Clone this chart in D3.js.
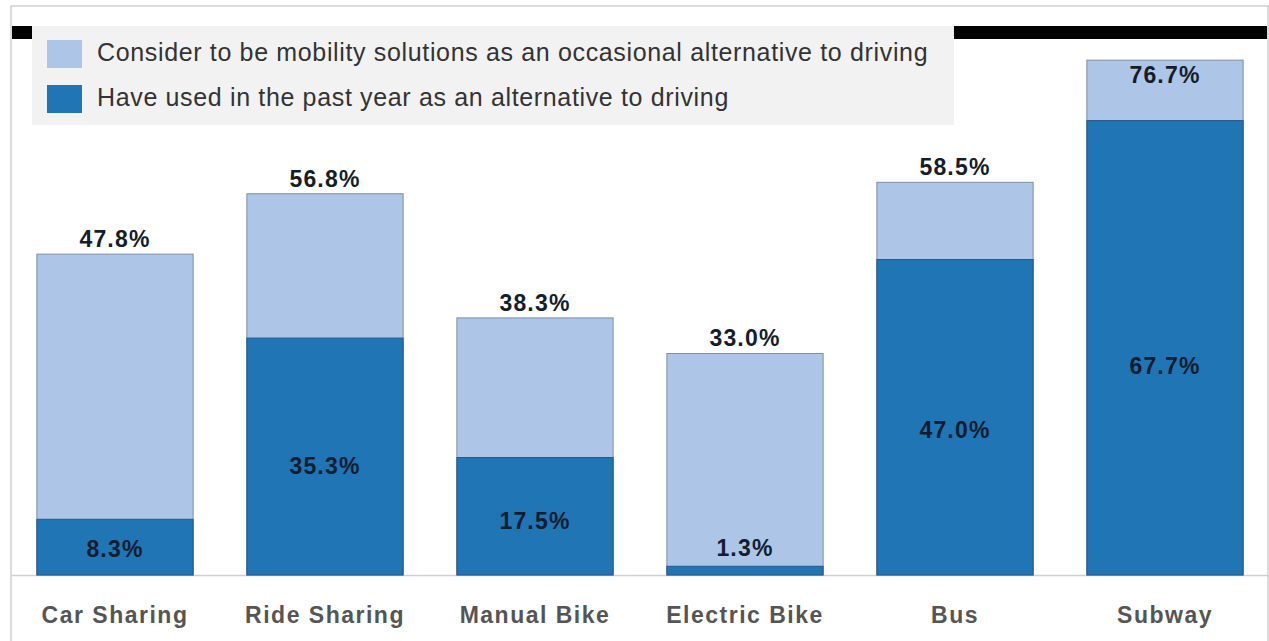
<!DOCTYPE html>
<html>
<head>
<meta charset="utf-8">
<script src="https://cdn.jsdelivr.net/npm/d3@7"></script>
<style>
  html, body { margin: 0; padding: 0; background: #fff; }
  svg { display: block; font-family: "Liberation Sans", Arial, sans-serif; }
</style>
</head>
<body>
<svg id="chart" width="1269" height="641"></svg>
<script>
// data
var categories = ['Car Sharing', 'Ride Sharing', 'Manual Bike', 'Electric Bike', 'Bus', 'Subway'];
var considerVals = [47.8, 56.8, 38.3, 33.0, 58.5, 76.7];   // total bar height
var usedVals = [8.3, 35.3, 17.5, 1.3, 47.0, 67.7];          // dark segment
var legendLabels = [
  'Consider to be mobility solutions as an occasional alternative to driving',
  'Have used in the past year as an alternative to driving'
];

var W = 1269, H = 641;
var LIGHT = '#adc6e7', DARK = '#2075b5';
var svg = d3.select('#chart');

var x = d3.scaleBand().domain(categories).range([10, 1270]).paddingInner(0.256).paddingOuter(0.128);
var y = d3.scaleLinear().domain([0, 80]).range([575, 38]);

// frame
svg.append('rect').attr('x', 11).attr('y', 6).attr('width', W - 12).attr('height', H)
  .attr('fill', 'none').attr('stroke', '#cfcfcf').attr('stroke-width', 1.5);

// black strip at top
svg.append('rect').attr('x', 12).attr('y', 26).attr('width', 1255).attr('height', 13).attr('fill', '#000');

// baseline
svg.append('line').attr('x1', 12).attr('x2', W).attr('y1', y(0) + 0.5).attr('y2', y(0) + 0.5)
  .attr('stroke', '#d0d0d0').attr('stroke-width', 1.5);

// bars
var g = svg.append('g');
g.selectAll('rect.light').data(categories).enter().append('rect').attr('class', 'light')
  .attr('x', function (d) { return x(d); })
  .attr('width', x.bandwidth())
  .attr('y', function (d, i) { return y(considerVals[i]); })
  .attr('height', function (d, i) { return y(0) - y(considerVals[i]); })
  .attr('fill', LIGHT).attr('stroke', '#7d8ea6').attr('stroke-width', 1);

g.selectAll('rect.dark').data(categories).enter().append('rect').attr('class', 'dark')
  .attr('x', function (d) { return x(d); })
  .attr('width', x.bandwidth())
  .attr('y', function (d, i) { return y(usedVals[i]); })
  .attr('height', function (d, i) { return y(0) - y(usedVals[i]); })
  .attr('fill', DARK).attr('stroke', '#29588a').attr('stroke-width', 1);

// top labels
g.selectAll('text.top').data(categories).enter().append('text').attr('class', 'top')
  .attr('x', function (d) { return x(d) + x.bandwidth() / 2; })
  .attr('y', function (d, i) {
    var t = y(considerVals[i]);
    return t - 22 < 130 ? t + 23 : t - 7;
  })
  .attr('text-anchor', 'middle').attr('font-size', 23).attr('font-weight', 'bold')
  .attr('letter-spacing', 1.2).attr('fill', '#161d2a')
  .text(function (d, i) { return considerVals[i].toFixed(1) + '%'; });

// inner labels
g.selectAll('text.inner').data(categories).enter().append('text').attr('class', 'inner')
  .attr('x', function (d) { return x(d) + x.bandwidth() / 2; })
  .attr('y', function (d, i) {
    var v = usedVals[i];
    if (v < 5) return y(v) - 18 + 8;
    return y(v * 0.46) + 8;
  })
  .attr('text-anchor', 'middle').attr('font-size', 23).attr('font-weight', 'bold')
  .attr('letter-spacing', 1.2).attr('fill', '#121d30')
  .text(function (d, i) { return usedVals[i].toFixed(1) + '%'; });

// category axis
var xAxis = svg.append('g').attr('transform', 'translate(0,' + y(0) + ')')
  .call(d3.axisBottom(x).tickSize(0).tickPadding(0));
xAxis.select('.domain').remove();
xAxis.selectAll('text')
  .attr('y', 48).attr('dy', 0)
  .attr('font-family', '"Liberation Sans", Arial, sans-serif')
  .attr('font-size', 23).attr('font-weight', 'bold').attr('letter-spacing', 1.5)
  .attr('fill', '#555');

// legend
var lg = svg.append('g');
lg.append('rect').attr('x', 32).attr('y', 26).attr('width', 922).attr('height', 99).attr('fill', '#f2f2f2');
var items = lg.selectAll('g.item').data(legendLabels).enter().append('g').attr('class', 'item')
  .attr('transform', function (d, i) { return 'translate(47,' + (40 + i * 45) + ')'; });
items.append('rect').attr('width', 35).attr('height', 28)
  .attr('fill', function (d, i) { return i === 0 ? LIGHT : DARK; });
items.append('text').attr('x', 50).attr('y', 21)
  .attr('font-size', 25).attr('letter-spacing', 0.65).attr('fill', '#333')
  .text(function (d) { return d; });
</script>
</body>
</html>
